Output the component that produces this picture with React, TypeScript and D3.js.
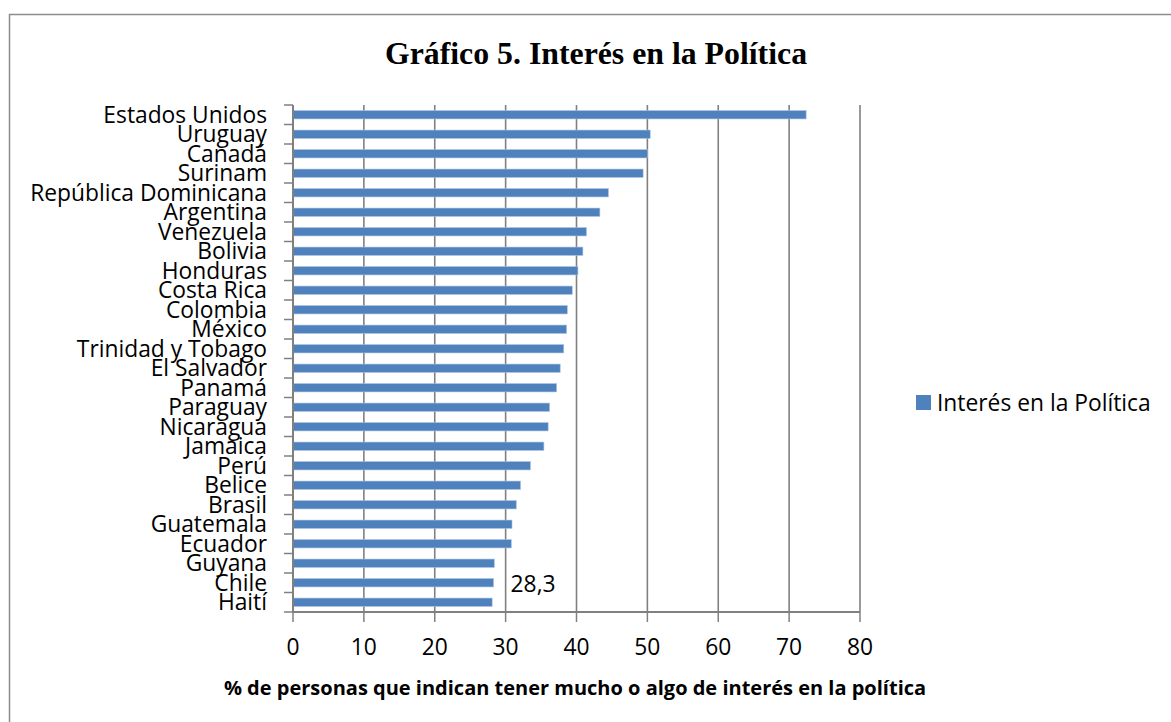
import React from "react";
import * as d3 from "d3";

const countries = [
  "Estados Unidos", "Uruguay", "Canadá", "Surinam", "República Dominicana",
  "Argentina", "Venezuela", "Bolivia", "Honduras", "Costa Rica", "Colombia",
  "México", "Trinidad y Tobago", "El Salvador", "Panamá", "Paraguay",
  "Nicaragua", "Jamaica", "Perú", "Belice", "Brasil", "Guatemala", "Ecuador",
  "Guyana", "Chile", "Haití",
];
const values = [
  72.4, 50.4, 50.0, 49.4, 44.5, 43.3, 41.4, 40.9, 40.2, 39.4, 38.7, 38.6,
  38.2, 37.7, 37.2, 36.2, 36.0, 35.4, 33.5, 32.1, 31.5, 30.9, 30.8, 28.4,
  28.3, 28.1,
];
const xTicks = [0, 10, 20, 30, 40, 50, 60, 70, 80];
const labelledCountry = "Chile";
const labelText = "28,3";
const seriesName = "Interés en la Política";
const title = "Gráfico 5. Interés en la Política";
const xTitle = "% de personas que indican tener mucho o algo de interés en la política";

export default function App() {
  const W = 1171, H = 722;
  const left = 293, right = 860, top = 105, bottom = 612;
  const x = d3.scaleLinear().domain([0, 80]).range([left, right]);
  const y = d3.scaleBand<string>().domain(countries).range([top, bottom]).paddingInner(0.57).paddingOuter(0.285);
  const band = d3.scaleBand<string>().domain(countries).range([top, bottom]);
  const sans = "'Open Sans', sans-serif";
  const grid = "#808080";
  const fs = 22.8;
  const boundaries = d3.range(countries.length + 1).map((i) => top + i * band.step());
  const li = countries.indexOf(labelledCountry);
  return (
    <svg width={W} height={H} style={{ position: "absolute", left: 0, top: 0, background: "#fff" }}>
      <rect x={0} y={0} width={W} height={H} fill="#fff" />
      <rect x={9.5} y={14.5} width={1300} height={900} fill="none" stroke="#8c8c8c" strokeWidth={1.5} />
      <text x={596} y={64} textAnchor="middle" fontFamily="'Liberation Serif', serif" fontWeight="bold" fontSize={31.8}>{title}</text>
      {xTicks.filter((t) => t > 0).map((t) => (
        <line key={"g" + t} x1={x(t)} x2={x(t)} y1={top} y2={bottom} stroke={grid} strokeWidth={1.6} />
      ))}
      {countries.map((c, i) => (
        <rect key={c} x={x(0)} y={y(c)!} width={x(values[i]) - x(0)} height={y.bandwidth()} fill="#4F81BD" stroke="#a9c1e3" strokeWidth={0.6} />
      ))}
      <line x1={left} x2={left} y1={top} y2={bottom} stroke={grid} strokeWidth={2} />
      {boundaries.map((b, i) => (
        <line key={"t" + i} x1={left - 9} x2={left} y1={b} y2={b} stroke={grid} strokeWidth={1.5} />
      ))}
      <line x1={left} x2={right} y1={bottom} y2={bottom} stroke={grid} strokeWidth={2} />
      {xTicks.map((t) => (
        <line key={"xt" + t} x1={x(t)} x2={x(t)} y1={bottom} y2={bottom + 10} stroke={grid} strokeWidth={1.5} />
      ))}
      {xTicks.map((t) => (
        <text key={"xl" + t} x={x(t)} y={655} textAnchor="middle" fontFamily={sans} fontSize={fs} fill="#000">{t}</text>
      ))}
      {countries.map((c) => (
        <text key={"l" + c} x={267} y={band(c)! + band.step() / 2 + 8} textAnchor="end" fontFamily={sans} fontSize={fs} fill="#000">{c}</text>
      ))}
      <text x={x(values[li]) + 17} y={band(labelledCountry)! + band.step() / 2 + 9.5} fontFamily={sans} fontSize={fs} fill="#000">{labelText}</text>
      <rect x={916} y={395} width={15} height={15} fill="#4F81BD" />
      <text x={937} y={410.5} fontFamily={sans} fontSize={fs} fill="#000">{seriesName}</text>
      <text x={575} y={695} textAnchor="middle" fontFamily={sans} fontWeight="bold" fontSize={20} fill="#000">{xTitle}</text>
    </svg>
  );
}
